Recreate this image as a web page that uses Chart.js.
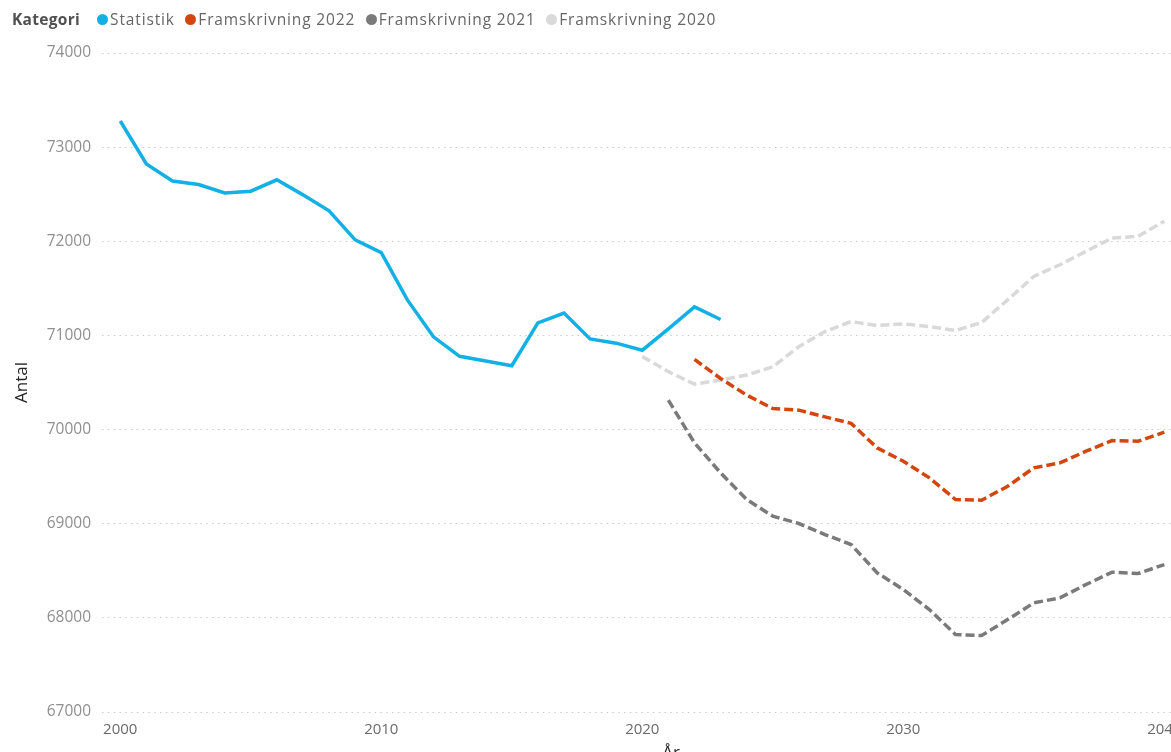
<!DOCTYPE html>
<html lang="sv">
<head>
<meta charset="UTF-8" />
<title>Antal per år</title>
<script src="https://cdn.jsdelivr.net/npm/chart.js"></script>
<style>
  html, body { margin: 0; padding: 0; background: #fff; overflow: hidden; }
  #wrap { position: relative; width: 1171px; height: 752px; overflow: hidden; }
  #legend {
    position: absolute; top: 8px; left: 12px; display: flex; align-items: center;
    font-family: "Open Sans", sans-serif; font-size: 15.5px; color: #666; letter-spacing: 0.85px;
    white-space: nowrap; z-index: 2;
  }
  #legend .title { font-weight: 700; color: #505050; margin-right: 17px; letter-spacing: 0.3px; }
  #legend .item { display: flex; align-items: center; margin-right: 10.5px; }
  #legend .dot { width: 11px; height: 11px; border-radius: 50%; margin-right: 2px; }
  #chart { position: absolute; top: 0; left: 0; }
</style>
</head>
<body>
<div id="wrap">
  <div id="legend"><span class="title">Kategori</span></div>
  <canvas id="chart" width="1240" height="775"></canvas>
</div>
<script>
// years on the x axis
const years = [2000, 2001, 2002, 2003, 2004, 2005, 2006, 2007, 2008, 2009,
               2010, 2011, 2012, 2013, 2014, 2015, 2016, 2017, 2018, 2019,
               2020, 2021, 2022, 2023, 2024, 2025, 2026, 2027, 2028, 2029,
               2030, 2031, 2032, 2033, 2034, 2035, 2036, 2037, 2038, 2039, 2040];

// Statistik 2000-2023
const statistik = [73278, 72822, 72640, 72603, 72513, 72532, 72653, 72493, 72323, 72015,
                   71879, 71377, 70985, 70778, 70729, 70678, 71134, 71238, 70963, 70918,
                   70843, 71070, 71304, 71169];
// Framskrivning 2022, 2022-2040
const fram2022 = [70745, 70543, 70366, 70224, 70206, 70135, 70066, 69805, 69664, 69487,
                  69257, 69250, 69398, 69593, 69646, 69770, 69883, 69876, 69972];
// Framskrivning 2021, 2021-2040
const fram2021 = [70312, 69858, 69540, 69257, 69080, 69002, 68885, 68779, 68478, 68301,
                  68088, 67823, 67812, 67982, 68159, 68212, 68354, 68485, 68471, 68566];
// Framskrivning 2020, 2020-2040
const fram2020 = [70775, 70615, 70483, 70526, 70579, 70668, 70881, 71041, 71147, 71105,
                  71123, 71094, 71052, 71137, 71378, 71627, 71751, 71893, 72035, 72053, 72213];

const seriesNames = ["Statistik", "Framskrivning 2022", "Framskrivning 2021", "Framskrivning 2020"];
const seriesStart = [2000, 2022, 2021, 2020];
const seriesColors = ["#12B0E4", "#D4460F", "#7A7A7A", "#D9D9D9"];

const xTicks = [2000, 2010, 2020, 2030, 2040];
const yTicks = [67000, 68000, 69000, 70000, 71000, 72000, 73000, 74000];

const fontFam = '"Open Sans", sans-serif';

function toPoints(values, start) {
  const offset = years.indexOf(start);
  return values.map((v, i) => ({ x: years[offset + i], y: v }));
}

const allValues = [statistik, fram2022, fram2021, fram2020];

const datasets = allValues.map((vals, i) => ({
  label: seriesNames[i],
  data: toPoints(vals, seriesStart[i]),
  borderColor: seriesColors[i],
  backgroundColor: seriesColors[i],
  borderWidth: 3.5,
  borderDash: i === 0 ? [] : [9, 4],
  pointRadius: 0,
  tension: 0,
  fill: false
}));

// html legend
const legendEl = document.getElementById("legend");
seriesNames.forEach((name, i) => {
  const item = document.createElement("span");
  item.className = "item";
  item.innerHTML = `<span class="dot" style="background:${seriesColors[i]}"></span>${name}`;
  legendEl.appendChild(item);
});

new Chart(document.getElementById("chart"), {
  type: "line",
  data: { datasets },
  options: {
    responsive: false,
    animation: false,
    devicePixelRatio: 1,
    layout: { padding: { top: 53, left: 0, right: 0, bottom: 0 } },
    plugins: { legend: { display: false }, tooltip: { enabled: false } },
    scales: {
      x: {
        type: "linear",
        min: 1999.3,
        max: 2042.9,
        afterBuildTicks: s => { s.ticks = xTicks.map(v => ({ value: v })); },
        afterFit: s => { s.height = 63; },
        grid: { display: false, drawTicks: false },
        border: { display: false },
        ticks: {
          padding: 9,
          color: "#6a6a6a",
          font: { family: fontFam, size: 15 },
          callback: v => String(v)
        },
        title: {
          display: true,
          text: "År",
          color: "#252423",
          font: { family: fontFam, size: 17 },
          padding: { top: 0, bottom: 12 }
        }
      },
      y: {
        min: 67000,
        max: 74000,
        afterBuildTicks: s => { s.ticks = yTicks.map(v => ({ value: v })); },
        afterFit: s => { s.width = 102; },
        grid: { color: "#cccccc", lineWidth: 1, drawTicks: false },
        border: { display: false, dash: [1.5, 4.3] },
        ticks: {
          padding: 11,
          color: "#8f8f8f",
          font: { family: fontFam, size: 15.5 },
          callback: v => String(v)
        },
        title: {
          display: true,
          text: "Antal",
          color: "#252423",
          font: { family: fontFam, size: 17 },
          padding: { top: 12, bottom: 0 }
        }
      }
    }
  }
});
</script>
</body>
</html>
